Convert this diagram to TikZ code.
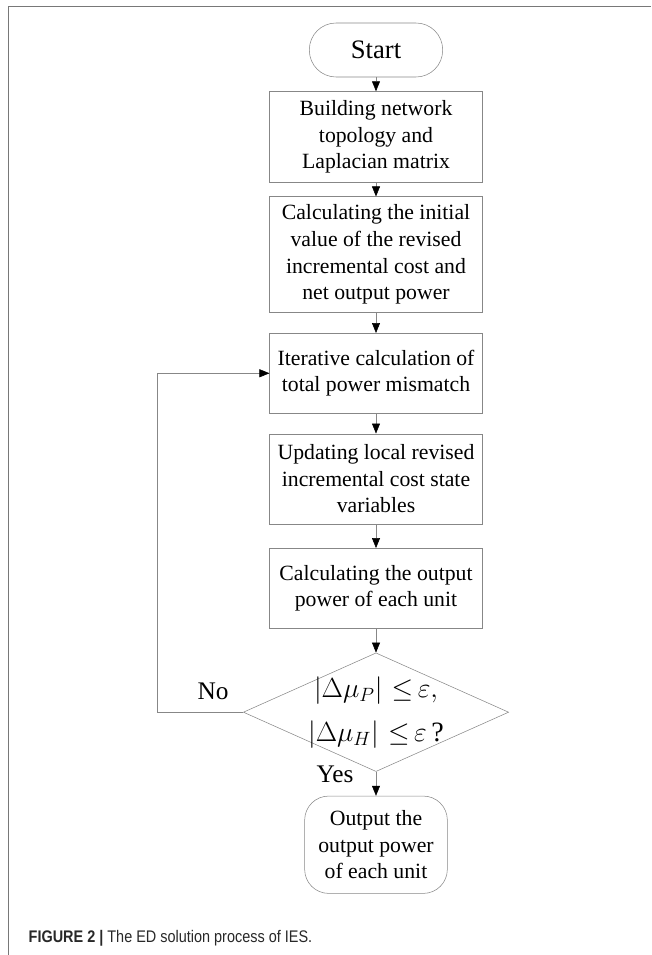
\documentclass[tikz,border=0pt]{standalone}
\usepackage{amsmath}
\usepackage{amssymb}
\usepackage{fontspec}
\setmainfont{Liberation Serif}
\newfontfamily\capfont[FakeStretch = 0.86]{Liberation Sans}
\usepackage{xcolor}
\usepackage{tikz}
\usetikzlibrary{positioning,arrows.meta,shapes.geometric}

\definecolor{framegray}{RGB}{120,120,120}
\definecolor{boxgray}{RGB}{135,135,135}
\definecolor{capgray}{RGB}{40,40,40}

\begin{document}
\begin{tikzpicture}[
                every node/.append style = {align = center, font = \fontsize{16.3}{20}\selectfont},
                procbox/.style = {draw = boxgray, rectangle, minimum width = 159.4pt, inner sep = 0pt},
                terminal/.style = {draw = boxgray, rectangle, rounded corners = 20pt, minimum width = 100pt, minimum height = 40.5pt},
                decision/.style = {draw = boxgray, diamond, aspect = 2.24, minimum width = 199pt, minimum height = 89pt, inner sep = -8pt, font = \fontsize{21}{33}\selectfont},
                flowline/.style = {draw = boxgray, -{Triangle[length = 7.5pt, width = 6pt, color = black]}}]
            \useasboundingbox (0,0) rectangle (488.25pt,-716.25pt);
            \draw[framegray] (6pt,-716.25pt) -- (6pt,-4.5pt) -- (488.25pt,-4.5pt);
            \node[terminal, font = \fontsize{20}{24}\selectfont] (start) at (282pt,-37.5pt) {Start};
            \node[procbox, minimum height = 68pt, below = 10.5pt of start] (topo) {Building network\\topology and\\Laplacian matrix};
            \node[procbox, minimum height = 87pt, below = 10.5pt of topo] (init) {Calculating the initial\\value of the revised\\incremental cost and\\net output power};
            \node[procbox, minimum height = 60pt, below = 15pt of init] (iter) {Iterative calculation of\\total power mismatch};
            \node[procbox, minimum height = 67.5pt, below = 15pt of iter] (update) {Updating local revised\\incremental cost state\\variables};
            \node[procbox, minimum height = 60pt, below = 18pt of update] (unitpower) {Calculating the output\\power of each unit};
            \node[decision, below = 18pt of unitpower] (check) {$\left|\Delta\mu_P\right|\,{\le}\,\varepsilon,$\\$\left|\Delta\mu_H\right|\,{\le}\,\varepsilon\,$?};
            \node[terminal, rounded corners = 18pt, minimum width = 107pt, minimum height = 73pt, below = 18pt of check] (result) {Output the\\output power\\of each unit};
            \draw[flowline] (start) -- (topo);
            \draw[flowline] (topo) -- (init);
            \draw[flowline] (init) -- (iter);
            \draw[flowline] (iter) -- (update);
            \draw[flowline] (update) -- (unitpower);
            \draw[flowline] (unitpower) -- (check);
            \draw[flowline] (check) -- (result);
            \draw[flowline] (check.west) -- ++(-64.5pt,0) |- (iter.west);
            \node[font = \fontsize{19}{23}\selectfont] (nolabel) at ([xshift = -22.5pt, yshift = 15.75pt]check.west) {No};
            \node[font = \fontsize{19}{23}\selectfont] (yeslabel) at ([xshift = -30.75pt, yshift = -2.25pt]check.south) {Yes};
            \node[anchor = base west, text = capgray, font = \capfont\fontsize{12.6}{15}\selectfont] (caption) at (18pt,-706.5pt) {\textbf{FIGURE 2 |} The ED solution process of IES.};
            \end{tikzpicture}
\end{document}
